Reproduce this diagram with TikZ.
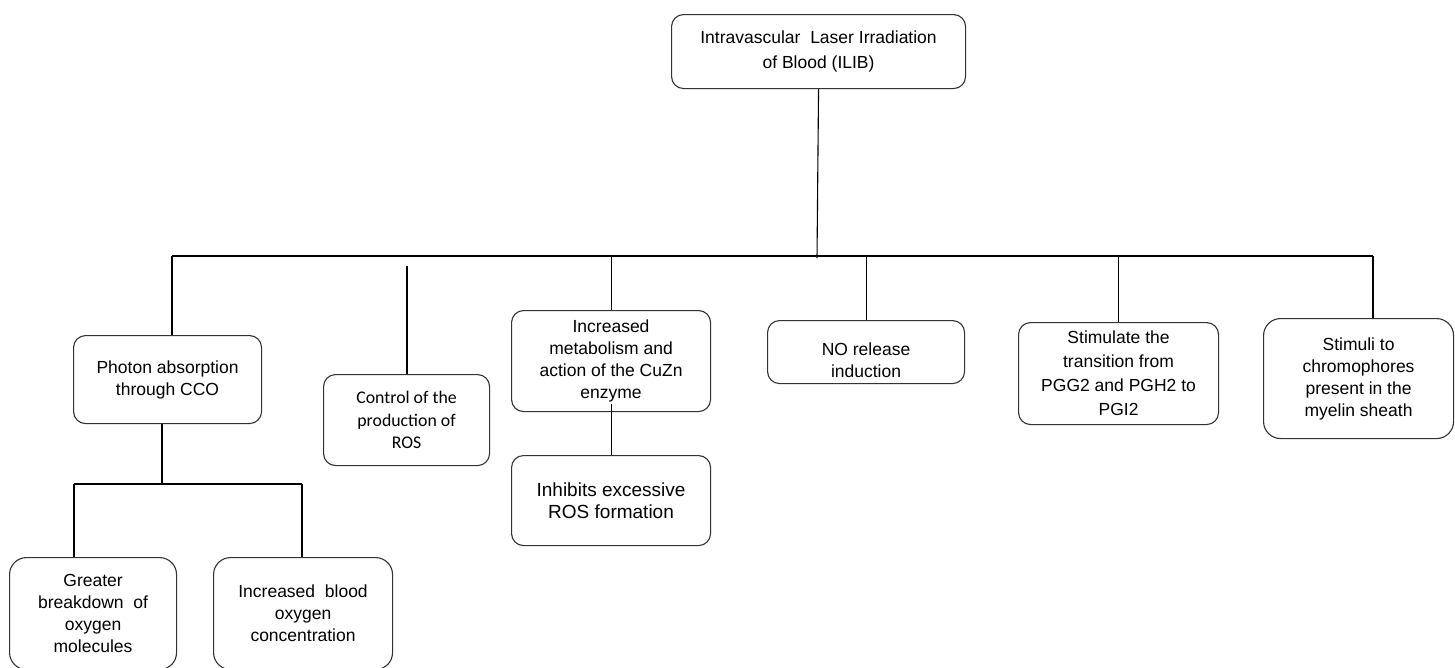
\documentclass[tikz,border=0pt]{standalone}
\usepackage{fontspec}
\setmainfont{Liberation Sans}
\newfontfamily\carlito{Carlito}
\begin{document}
\begin{tikzpicture}[x=1pt,y=-1pt,
  box/.style={draw=black!80, line width=1.1pt, rounded corners=12pt, align=center,
    inner sep=0pt, anchor=north west, font=\fontsize{17.5}{22}\selectfont},
  tallbox/.style={box, rounded corners=17pt},
  conn/.style={draw=black, line width=1.1pt}]
\useasboundingbox (0,0) rectangle (1455,667);
\clip (0,0) rectangle (1455,667);
\fill[white] (0,0) rectangle (1455,667);

% boxes
\node[box, minimum width=294pt, minimum height=74pt, font=\fontsize{17.5}{25}\selectfont]
  (ilib) at (671,14) {Intravascular\ \ Laser Irradiation\\of Blood (ILIB)};
\node[box, minimum width=188pt, minimum height=88pt] (photon) at (73,335)
  {Photon absorption\\through CCO};
\node[box, minimum width=166pt, minimum height=91pt, font=\carlito\fontsize{17.8}{22.5}\selectfont]
  (control) at (323,374) {Control of the\\production of\\ROS};
\node[box, minimum width=199pt, minimum height=101pt] (met) at (511,310)
  {Increased\\metabolism and\\action of the CuZn\\enzyme};
\node[box, minimum width=199pt, minimum height=90pt, font=\fontsize{19}{22}\selectfont]
  (inh) at (511,455) {Inhibits excessive\\ROS formation};
\node[box, minimum width=197pt, minimum height=63pt] (no) at (767,320)
  {\raisebox{-10pt}[\height][\depth]{\begin{tabular}{@{}c@{}}NO release\\induction\end{tabular}}};
\node[box, minimum width=200pt, minimum height=102pt, font=\fontsize{17.5}{24}\selectfont]
  (stim) at (1018,322) {Stimulate the\\transition from\\PGG2 and PGH2 to\\PGI2};
\node[tallbox, minimum width=190pt, minimum height=120pt] (myel) at (1263,318)
  {Stimuli to\\chromophores\\present in the\\myelin sheath};
\node[tallbox, minimum width=167pt, minimum height=112pt] (greater) at (9,557)
  {Greater\\breakdown\ \ of\\oxygen\\molecules};
\node[tallbox, minimum width=179pt, minimum height=112pt] (blood) at (213,557)
  {Increased\ \ blood\\oxygen\\concentration};

% main bus
\coordinate (bus) at (817,256);
\coordinate (busL) at (172,256);
\coordinate (busR) at (1373,256);
\coordinate (ctop) at (407,266);
\draw[conn] (ilib.south) -- ([yshift=-2pt]bus);
\draw[conn] (busL) -- (busR);
\draw[conn] (busL) -- (busL |- photon.north);
\draw[conn] (ctop) -- (ctop |- control.north);
\draw[conn] (met.north |- bus) -- (met.north);
\draw[conn] (no.north |- bus) -- (no.north);
\draw[conn] (stim.north |- bus) -- (stim.north);
\draw[conn] (busR) -- (busR |- myel.north);

% photon sub-tree
\coordinate (pj) at (162,484);
\coordinate (gL) at (74,484);
\coordinate (gR) at (302,484);
\draw[conn] (pj |- photon.south) -- (pj);
\draw[conn] (gL) -- (gR);
\draw[conn] (gL) -- (gL |- greater.north);
\draw[conn] (gR) -- (gR |- blood.north);

% metabolism -> inhibits
\draw[conn] ([yshift=8pt]met.south) -- (inh.north);
\end{tikzpicture}
\end{document}
